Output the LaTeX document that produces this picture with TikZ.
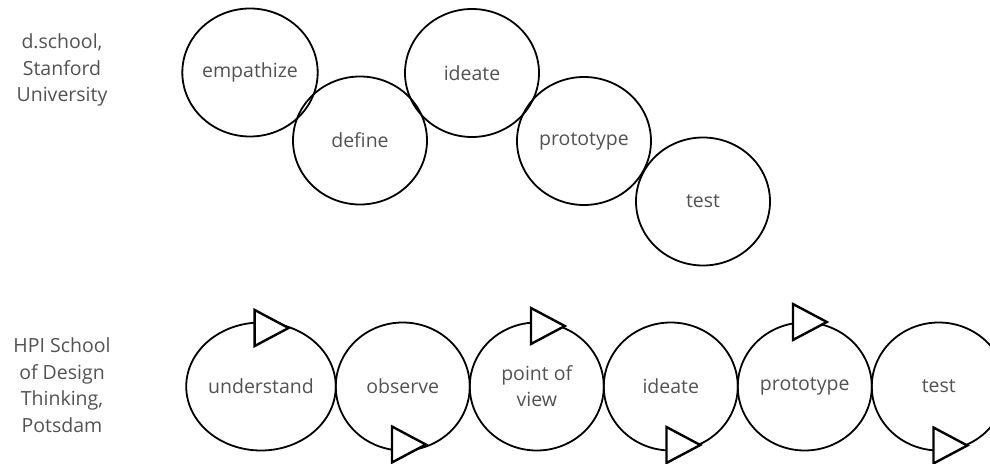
\documentclass[tikz,border=0pt]{standalone}
\usepackage{fontspec}
\setmainfont{Open Sans}
\usetikzlibrary{shapes.geometric}
\usetikzlibrary{positioning}

\tikzset{
    stage/.style={draw=black, line width=1.8pt, ellipse, minimum width=134pt, minimum height=128pt, inner sep=0pt, outer sep=0pt, text=black!68, align=center, font=\fontsize{19.5}{26}\selectfont},
    school/.style={text=black!68, align=center, font=\fontsize{19.5}{26.5}\selectfont},
    turn/.style={draw=black, line width=2.4pt, fill=white, isosceles triangle, isosceles triangle apex angle=56, minimum width=36pt, inner sep=0pt}
}

\begin{document}
\begin{tikzpicture}[x=1pt, y=1pt]
    \useasboundingbox (0,0) rectangle (990,463);

    \node[school] (dschool) at (62,393) {d.school,\\Stanford\\University};
    \node[stage] (empathize) at (250,390.5) {empathize};
    \node[stage] (define) at (360,322.5) {define};
    \node[stage] (ideate) at (472,390) {ideate};
    \node[stage] (prototype) at (584,322) {prototype};
    \node[stage] (test) at (703,261.5) {test};

    \node[school] (hpi) at (62,78) {HPI School\\of Design\\Thinking,\\Potsdam};
    \node[stage] (understand) at (261,76.5) {understand};
    \node[stage, right=0pt of understand] (observe) {observe};
    \node[stage, right=0pt of observe] (pointofview) {point of\\view};
    \node[stage, right=0pt of pointofview] (ideatehpi) {ideate};
    \node[stage, right=0pt of ideatehpi] (prototypehpi) {prototype};
    \node[stage, right=0pt of prototypehpi] (testhpi) {test};

    \node[turn, xshift=4.5pt, yshift=-5.5pt] (understand-turn) at (understand.north) {};
    \node[turn, yshift=6pt] (observe-turn) at (observe.south) {};
    \node[turn, xshift=5pt, yshift=-3.5pt] (pointofview-turn) at (pointofview.north) {};
    \node[turn, xshift=6.5pt, yshift=5.5pt] (ideatehpi-turn) at (ideatehpi.south) {};
    \node[turn, xshift=-1pt, yshift=0.5pt] (prototypehpi-turn) at (prototypehpi.north) {};
    \node[turn, xshift=5.5pt, yshift=5pt] (testhpi-turn) at (testhpi.south) {};
\end{tikzpicture}
\end{document}
